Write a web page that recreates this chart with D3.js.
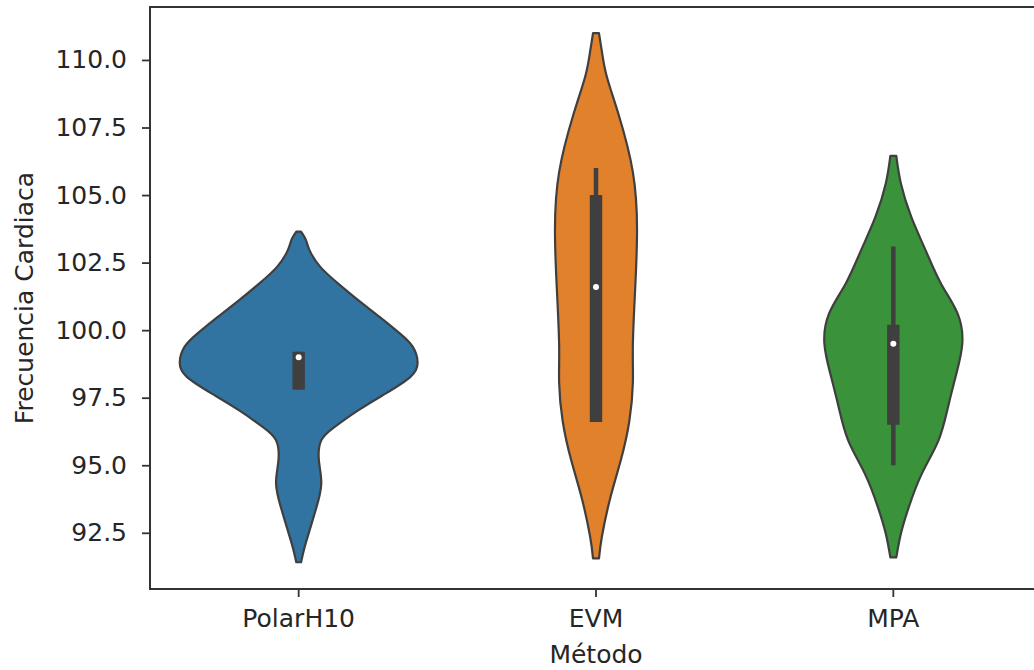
<!DOCTYPE html>
<html>
<head>
<meta charset="utf-8">
<script src="https://cdn.jsdelivr.net/npm/d3@7"></script>
<style>
  html, body { margin: 0; padding: 0; background: #fff; }
  svg { display: block; font-family: "DejaVu Sans", sans-serif; }
</style>
</head>
<body>
<svg id="chart" width="1034" height="670"></svg>
<script>
// Methods compared
const methods = ["PolarH10", "EVM", "MPA"];
const colors = ["#3274a1", "#e1812c", "#3a923a"];

// Kernel density profiles: heart-rate levels and relative density at each level
const polarLevels  = [103.65, 103.35, 102.97, 102.35, 101.73, 101.11, 100.49, 99.88, 99.38, 98.80, 98.27, 97.65, 97.03, 96.41, 95.92, 95.18, 94.32, 93.45, 92.71, 91.97, 91.41];
const polarDensity = [0.02, 0.06, 0.09, 0.18, 0.33, 0.50, 0.68, 0.85, 0.96, 1.00, 0.94, 0.73, 0.50, 0.30, 0.19, 0.17, 0.19, 0.15, 0.10, 0.05, 0.02];

const evmLevels  = [110.99, 110.3, 109.40, 107.98, 105.85, 103.72, 101.59, 99.47, 98.05, 96.63, 95.21, 93.79, 92.37, 91.55];
const evmDensity = [0.025, 0.05, 0.09, 0.19, 0.31, 0.345, 0.33, 0.31, 0.31, 0.28, 0.21, 0.12, 0.05, 0.025];

const mpaLevels  = [106.45, 105.44, 104.20, 102.97, 101.73, 100.62, 99.51, 98.39, 97.16, 95.92, 94.69, 93.45, 92.46, 91.59];
const mpaDensity = [0.025, 0.063, 0.15, 0.27, 0.40, 0.54, 0.58, 0.53, 0.46, 0.38, 0.24, 0.13, 0.063, 0.025];

// Box summaries: [lower whisker, q1, median, q3, upper whisker]
const polarBox = [97.8, 97.8, 99.0, 99.2, 99.2];
const evmBox   = [96.6, 96.6, 101.6, 105.0, 106.0];
const mpaBox   = [95.0, 96.5, 99.5, 100.2, 103.1];

const yTicks = [92.5, 95.0, 97.5, 100.0, 102.5, 105.0, 107.5, 110.0];

const profiles = [
  { levels: polarLevels, density: polarDensity, box: polarBox },
  { levels: evmLevels,   density: evmDensity,   box: evmBox },
  { levels: mpaLevels,   density: mpaDensity,   box: mpaBox }
];

// Plot area (right edge extends past the visible canvas)
const plotLeft = 150, plotRight = 1042, plotTop = 7, plotBottom = 589;
const svg = d3.select("#chart");

const x = d3.scaleBand().domain(methods).range([plotLeft, plotRight]).paddingInner(0).paddingOuter(0);
const y = d3.scaleLinear().domain([90.42, 111.96]).range([plotBottom, plotTop]);
const w = d3.scaleLinear().domain([0, 1]).range([0, x.bandwidth() * 0.4]);

const edge = "#3f3f3f";

// Violins
profiles.forEach((p, i) => {
  const cx = x(methods[i]) + x.bandwidth() / 2;
  const pts = p.levels.map((v, k) => ({ v, d: p.density[k] }));
  const area = d3.area()
    .y(d => y(d.v))
    .x0(d => cx - w(d.d))
    .x1(d => cx + w(d.d))
    .curve(d3.curveNatural);
  svg.append("path")
    .attr("d", area(pts))
    .attr("fill", colors[i])
    .attr("stroke", edge)
    .attr("stroke-width", 2.2)
    .attr("stroke-linejoin", "round");

  const [lo, q1, med, q3, hi] = p.box;
  // whisker
  svg.append("line")
    .attr("x1", cx).attr("x2", cx)
    .attr("y1", y(lo)).attr("y2", y(hi))
    .attr("stroke", edge).attr("stroke-width", 4.5);
  // box
  svg.append("rect")
    .attr("x", cx - 6.2).attr("width", 12.4)
    .attr("y", y(q3)).attr("height", y(q1) - y(q3))
    .attr("fill", edge);
  // median
  svg.append("circle")
    .attr("cx", cx).attr("cy", y(med)).attr("r", 3)
    .attr("fill", "#ffffff");
});

// Axes
const fontSize = 25;
const yAxis = svg.append("g")
  .attr("transform", `translate(${plotLeft},0)`)
  .call(d3.axisLeft(y).tickValues(yTicks).tickFormat(d3.format(".1f")).tickSize(8).tickPadding(15));
const xAxis = svg.append("g")
  .attr("transform", `translate(0,${plotBottom})`)
  .call(d3.axisBottom(x).tickSize(8).tickPadding(12));

[yAxis, xAxis].forEach(g => {
  g.select(".domain").remove();
  g.selectAll(".tick line").attr("stroke", "#333").attr("stroke-width", 1.8);
  g.selectAll(".tick text").attr("fill", "#262626").style("font-size", fontSize + "px")
    .style("font-family", "'DejaVu Sans', sans-serif");
});

// Frame
svg.append("rect")
  .attr("x", plotLeft).attr("y", plotTop)
  .attr("width", plotRight - plotLeft).attr("height", plotBottom - plotTop)
  .attr("fill", "none").attr("stroke", "#333").attr("stroke-width", 2);

// Axis titles
svg.append("text")
  .attr("x", (plotLeft + plotRight) / 2).attr("y", 663)
  .attr("text-anchor", "middle")
  .attr("fill", "#262626").style("font-size", fontSize + "px")
  .text("Método");

svg.append("text")
  .attr("transform", `translate(33,${(plotTop + plotBottom) / 2}) rotate(-90)`)
  .attr("text-anchor", "middle")
  .attr("fill", "#262626").style("font-size", fontSize + "px")
  .text("Frecuencia Cardiaca");
</script>
</body>
</html>
